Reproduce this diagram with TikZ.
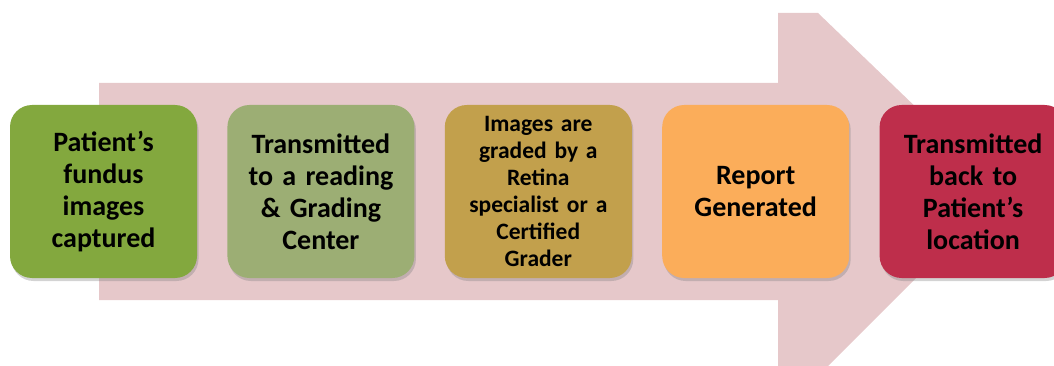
\documentclass[tikz,border=0pt]{standalone}
\usepackage{fontspec}
\setmainfont{Carlito}
\usetikzlibrary{positioning,shadows}

\definecolor{flowpink}{HTML}{E6C8CA}
\definecolor{capgreen}{HTML}{83A83E}
\definecolor{sagegreen}{HTML}{9CAE74}
\definecolor{ochre}{HTML}{C2A04C}
\definecolor{peach}{HTML}{FBAD5A}
\definecolor{crimson}{HTML}{BE2E4B}

\tikzset{
	stage/.style={rounded corners=22pt, minimum width=187pt, minimum height=173pt,
		text width=183pt, align=center, inner sep=0pt,
		font=\bfseries\fontsize{28}{32}\selectfont,
		drop shadow={shadow xshift=1.5pt, shadow yshift=-3pt, opacity=0.35}},
	smalltext/.style={font=\bfseries\fontsize{23.5}{27}\selectfont}
}

\begin{document}
\begin{tikzpicture}[x=1pt,y=-1pt]
	
	\clip (0,0) rectangle (1054,366);
	
	\coordinate (tail top) at (99,83);
	\coordinate (neck top) at (778,83);
	\coordinate (head top) at (778,13);
	\coordinate (head top r) at (818,13);
	\coordinate (tip) at (1003,191);
	\coordinate (head bot r) at (828,366);
	\coordinate (head bot) at (778,366);
	\coordinate (neck bot) at (778,300);
	\coordinate (tail bot) at (99,300);
	\fill[flowpink] (tail top) -- (neck top) -- (head top) -- (head top r) -- (tip)
		-- (head bot r) -- (head bot) -- (neck bot) -- (tail bot) -- cycle;
	
	\node[stage, fill=capgreen] (capture) at (103.5,191.5) {Patient’s\\fundus\\images\\captured};
	\node[stage, fill=sagegreen, right=30pt of capture] (reading) {Transmitted\\to a reading\\\& Grading\\Center};
	\node[stage, smalltext, fill=ochre, right=30pt of reading] (graded) {Images are\\graded by a\\Retina\\specialist or a\\Certified\\Grader};
	\node[stage, fill=peach, right=30pt of graded] (report) {Report\\Generated};
	\node[stage, fill=crimson, right=30pt of report] (back) {Transmitted\\back to\\Patient’s\\location};
	
\end{tikzpicture}
\end{document}
